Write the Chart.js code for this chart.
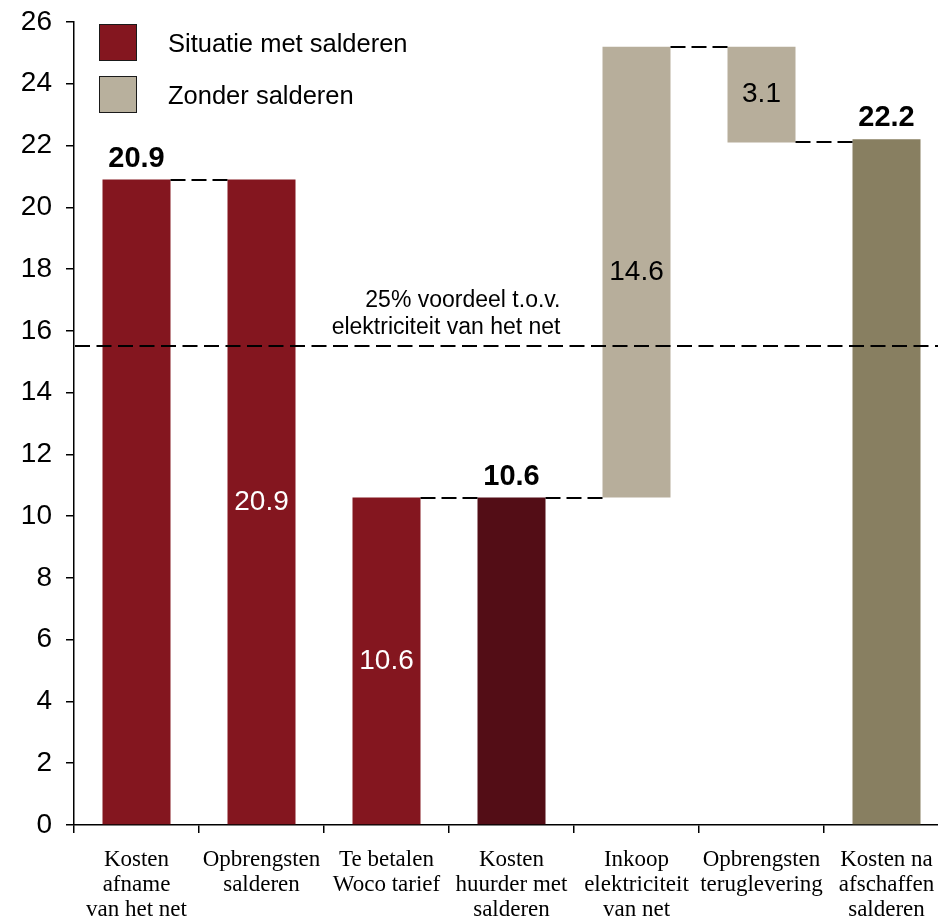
<!DOCTYPE html>
<html><head><meta charset="utf-8">
<script src="https://cdn.jsdelivr.net/npm/chart.js@4.4.1/dist/chart.umd.min.js"></script>
<style>
html,body{margin:0;padding:0;background:#fff;overflow:hidden;}
#wrap{width:950px;height:916px;position:relative;}
</style></head><body>
<div id="wrap"><canvas id="c"></canvas></div>
<script>
// ---- data ----
const categories = [
  ['Kosten','afname','van het net'],
  ['Opbrengsten','salderen'],
  ['Te betalen','Woco tarief'],
  ['Kosten','huurder met','salderen'],
  ['Inkoop','elektriciteit','van net'],
  ['Opbrengsten','teruglevering'],
  ['Kosten na','afschaffen','salderen']
];
const barStart = [0, 0, 0, 0, 10.6, 22.1, 0];
const barEnd = [20.9, 20.9, 10.6, 10.6, 25.2, 25.2, 22.2];
const valueLabels = ['20.9','20.9','10.6','10.6','14.6','3.1','22.2'];
const labelPlacement = ['above','inside','inside','above','inside','inside','above'];
const barColors = ['#84161F','#84161F','#84161F','#530D16','#B7AE9B','#B7AE9B','#887F61'];
const insideLabelColors = ['#FFFFFF','#FFFFFF','#FFFFFF','#FFFFFF','#000000','#000000','#000000'];
const connectorLevels = [20.9, null, 10.6, 10.6, 25.2, 22.1]; // between bar i and bar i+1
const benchmarkValue = 15.5;
const benchmarkText = ['25% voordeel t.o.v.','elektriciteit van het net'];
const legendLabels = ['Situatie met salderen','Zonder salderen'];
const legendColors = ['#84161F','#B8B09D'];
const yMin = 0, yMax = 26, yStep = 2;

const SANS = "'Liberation Sans', Arial, sans-serif";
const SERIF = "'Liberation Serif', 'Times New Roman', serif";

const annotations = {
  id: 'annotations',
  afterDatasetsDraw(chart) {
    const ctx = chart.ctx;
    const meta = chart.getDatasetMeta(0);
    const ys = chart.scales.y, xs = chart.scales.x;
    const area = chart.chartArea;
    ctx.save();
    // connectors
    ctx.strokeStyle = '#000';
    ctx.lineWidth = 2;
    ctx.setLineDash([15, 6]);
    connectorLevels.forEach((lv, i) => {
      if (lv === null) return;
      const a = meta.data[i], b = meta.data[i + 1];
      const y = Math.round(ys.getPixelForValue(lv));
      ctx.beginPath();
      ctx.moveTo(a.x + a.width / 2, y);
      ctx.lineTo(b.x - b.width / 2, y);
      ctx.stroke();
    });
    // benchmark line
    ctx.setLineDash([15, 6.5]);
    const by = Math.round(ys.getPixelForValue(benchmarkValue));
    ctx.beginPath();
    ctx.moveTo(area.left + 1, by);
    ctx.lineTo(area.right, by);
    ctx.stroke();
    ctx.setLineDash([]);
    // benchmark text
    ctx.fillStyle = '#000';
    ctx.font = '23px ' + SANS;
    ctx.textAlign = 'right';
    ctx.textBaseline = 'alphabetic';
    const tx = xs.getPixelForValue(3) + 49;
    ctx.fillText(benchmarkText[0], tx, by - 39.5);
    ctx.fillText(benchmarkText[1], tx, by - 12.5);
    // value labels
    ctx.textAlign = 'center';
    valueLabels.forEach((t, i) => {
      const el = meta.data[i];
      if (labelPlacement[i] === 'above') {
        ctx.font = 'bold 29px ' + SANS;
        ctx.fillStyle = '#000';
        ctx.textBaseline = 'alphabetic';
        ctx.fillText(t, el.x, ys.getPixelForValue(barEnd[i]) - 13);
      } else {
        ctx.font = '28px ' + SANS;
        ctx.fillStyle = insideLabelColors[i];
        ctx.textBaseline = 'middle';
        ctx.fillText(t, el.x, ys.getPixelForValue((barStart[i] + barEnd[i]) / 2));
      }
    });
    // legend
    ctx.textAlign = 'left';
    ctx.textBaseline = 'middle';
    ctx.font = '25.5px ' + SANS;
    legendLabels.forEach((t, i) => {
      const bx = area.left + 25, byy = area.top + 2 + i * 52;
      ctx.fillStyle = legendColors[i];
      ctx.fillRect(bx, byy, 38, 37);
      ctx.strokeStyle = '#1a1a1a';
      ctx.lineWidth = 1;
      ctx.strokeRect(bx + 0.5, byy + 0.5, 37, 36);
      ctx.fillStyle = '#000';
      ctx.fillText(t, bx + 69, byy + 21);
    });
    ctx.restore();
  }
};

new Chart(document.getElementById('c'), {
  type: 'bar',
  data: {
    labels: categories,
    datasets: [{
      data: barStart.map((s, i) => [s, barEnd[i]]),
      backgroundColor: barColors,
      borderWidth: 0,
      barPercentage: 0.544,
      categoryPercentage: 1
    }]
  },
  options: {
    responsive: true,
    maintainAspectRatio: false,
    devicePixelRatio: 1,
    animation: false,
    layout: { padding: { top: 22, right: 1, left: 0, bottom: 0 } },
    plugins: { legend: { display: false }, tooltip: { enabled: false } },
    scales: {
      y: {
        min: yMin, max: yMax,
        ticks: { stepSize: yStep, color: '#000', font: { family: SANS, size: 28 }, padding: 14 },
        grid: { display: true, drawOnChartArea: false, drawTicks: true, tickLength: 8, color: '#000', lineWidth: 1.5 },
        border: { display: true, color: '#000', width: 1.5 },
        afterFit(scale) { scale.width = 74; scale.paddingTop = 0; scale.paddingBottom = 0; }
      },
      x: {
        ticks: { color: '#000', font: { family: SERIF, size: 23, lineHeight: 1.087 }, padding: 14, maxRotation: 0, autoSkip: false },
        grid: { display: true, offset: true, drawOnChartArea: false, drawTicks: true, tickLength: 8, color: '#000', lineWidth: 1.5 },
        border: { display: true, color: '#000', width: 1.5 },
        afterFit(scale) { scale.height = 91; scale.paddingLeft = 0; scale.paddingRight = 0; }
      }
    }
  },
  plugins: [annotations]
});
</script>
</body></html>
